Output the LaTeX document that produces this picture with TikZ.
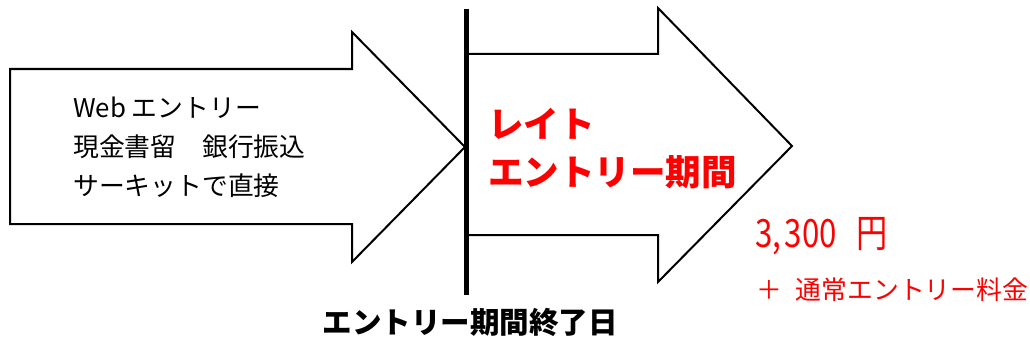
\documentclass[tikz,border=0pt]{standalone}
\usepackage{fontspec}
\newfontfamily\jp{Noto Sans CJK JP}
\begin{document}
\begin{tikzpicture}[x=1pt,y=-1pt,
  outline/.style={draw=black,line width=2pt,fill=white,line join=miter},
  lefttext/.style={anchor=base west,inner sep=0pt,font=\jp\fontsize{25.8}{30}\selectfont},
  redbig/.style={anchor=base west,inner sep=0pt,text=red,font=\jp\bfseries\fontsize{35.5}{40}\selectfont},
  price/.style={anchor=base west,inner sep=0pt,text=red,font=\jp\fontsize{39}{44}\selectfont},
  note/.style={anchor=base west,inner sep=0pt,text=red,font=\jp\fontsize{25.8}{30}\selectfont},
  label/.style={anchor=base,inner sep=0pt,font=\jp\bfseries\fontsize{29.5}{34}\selectfont}]
\useasboundingbox (0,0) rectangle (1030,345);
% left arrow
\draw[outline] (10,69) -- (352,69) -- (352,32) -- (465,147) -- (352,262) -- (352,224) -- (10,224) -- cycle;
% right arrow
\draw[outline] (466,54) -- (658,54) -- (658,8) -- (792,146) -- (658,282) -- (658,235) -- (466,235) -- cycle;
% boundary line
\coordinate (ltop) at (466,9);
\coordinate (lbot) at (466,295);
\draw[line width=5pt] (ltop) -- (lbot);
% left texts
\node[lefttext] (l1) at (73,117) {Web エントリー};
\node[lefttext] (l2) at (73,156) {現金書留　銀行振込};
\node[lefttext] (l3) at (73,195) {サーキットで直接};
% red texts
\node[redbig] (r1) at (488,137) {レイト};
\node[redbig] (r2) at (488,185) {エントリー期間};
\node[price] (p) at (755,247) {\scalebox{0.8}[1]{3,\hspace{0.12em}300\hspace{0.62em}円}};
\node[note] (n) at (756,299) {＋\hspace{14pt}通常エントリー料金};
% bottom label
\node[label] (b) at (470,333) {エントリー期間終了日};
\end{tikzpicture}
\end{document}
